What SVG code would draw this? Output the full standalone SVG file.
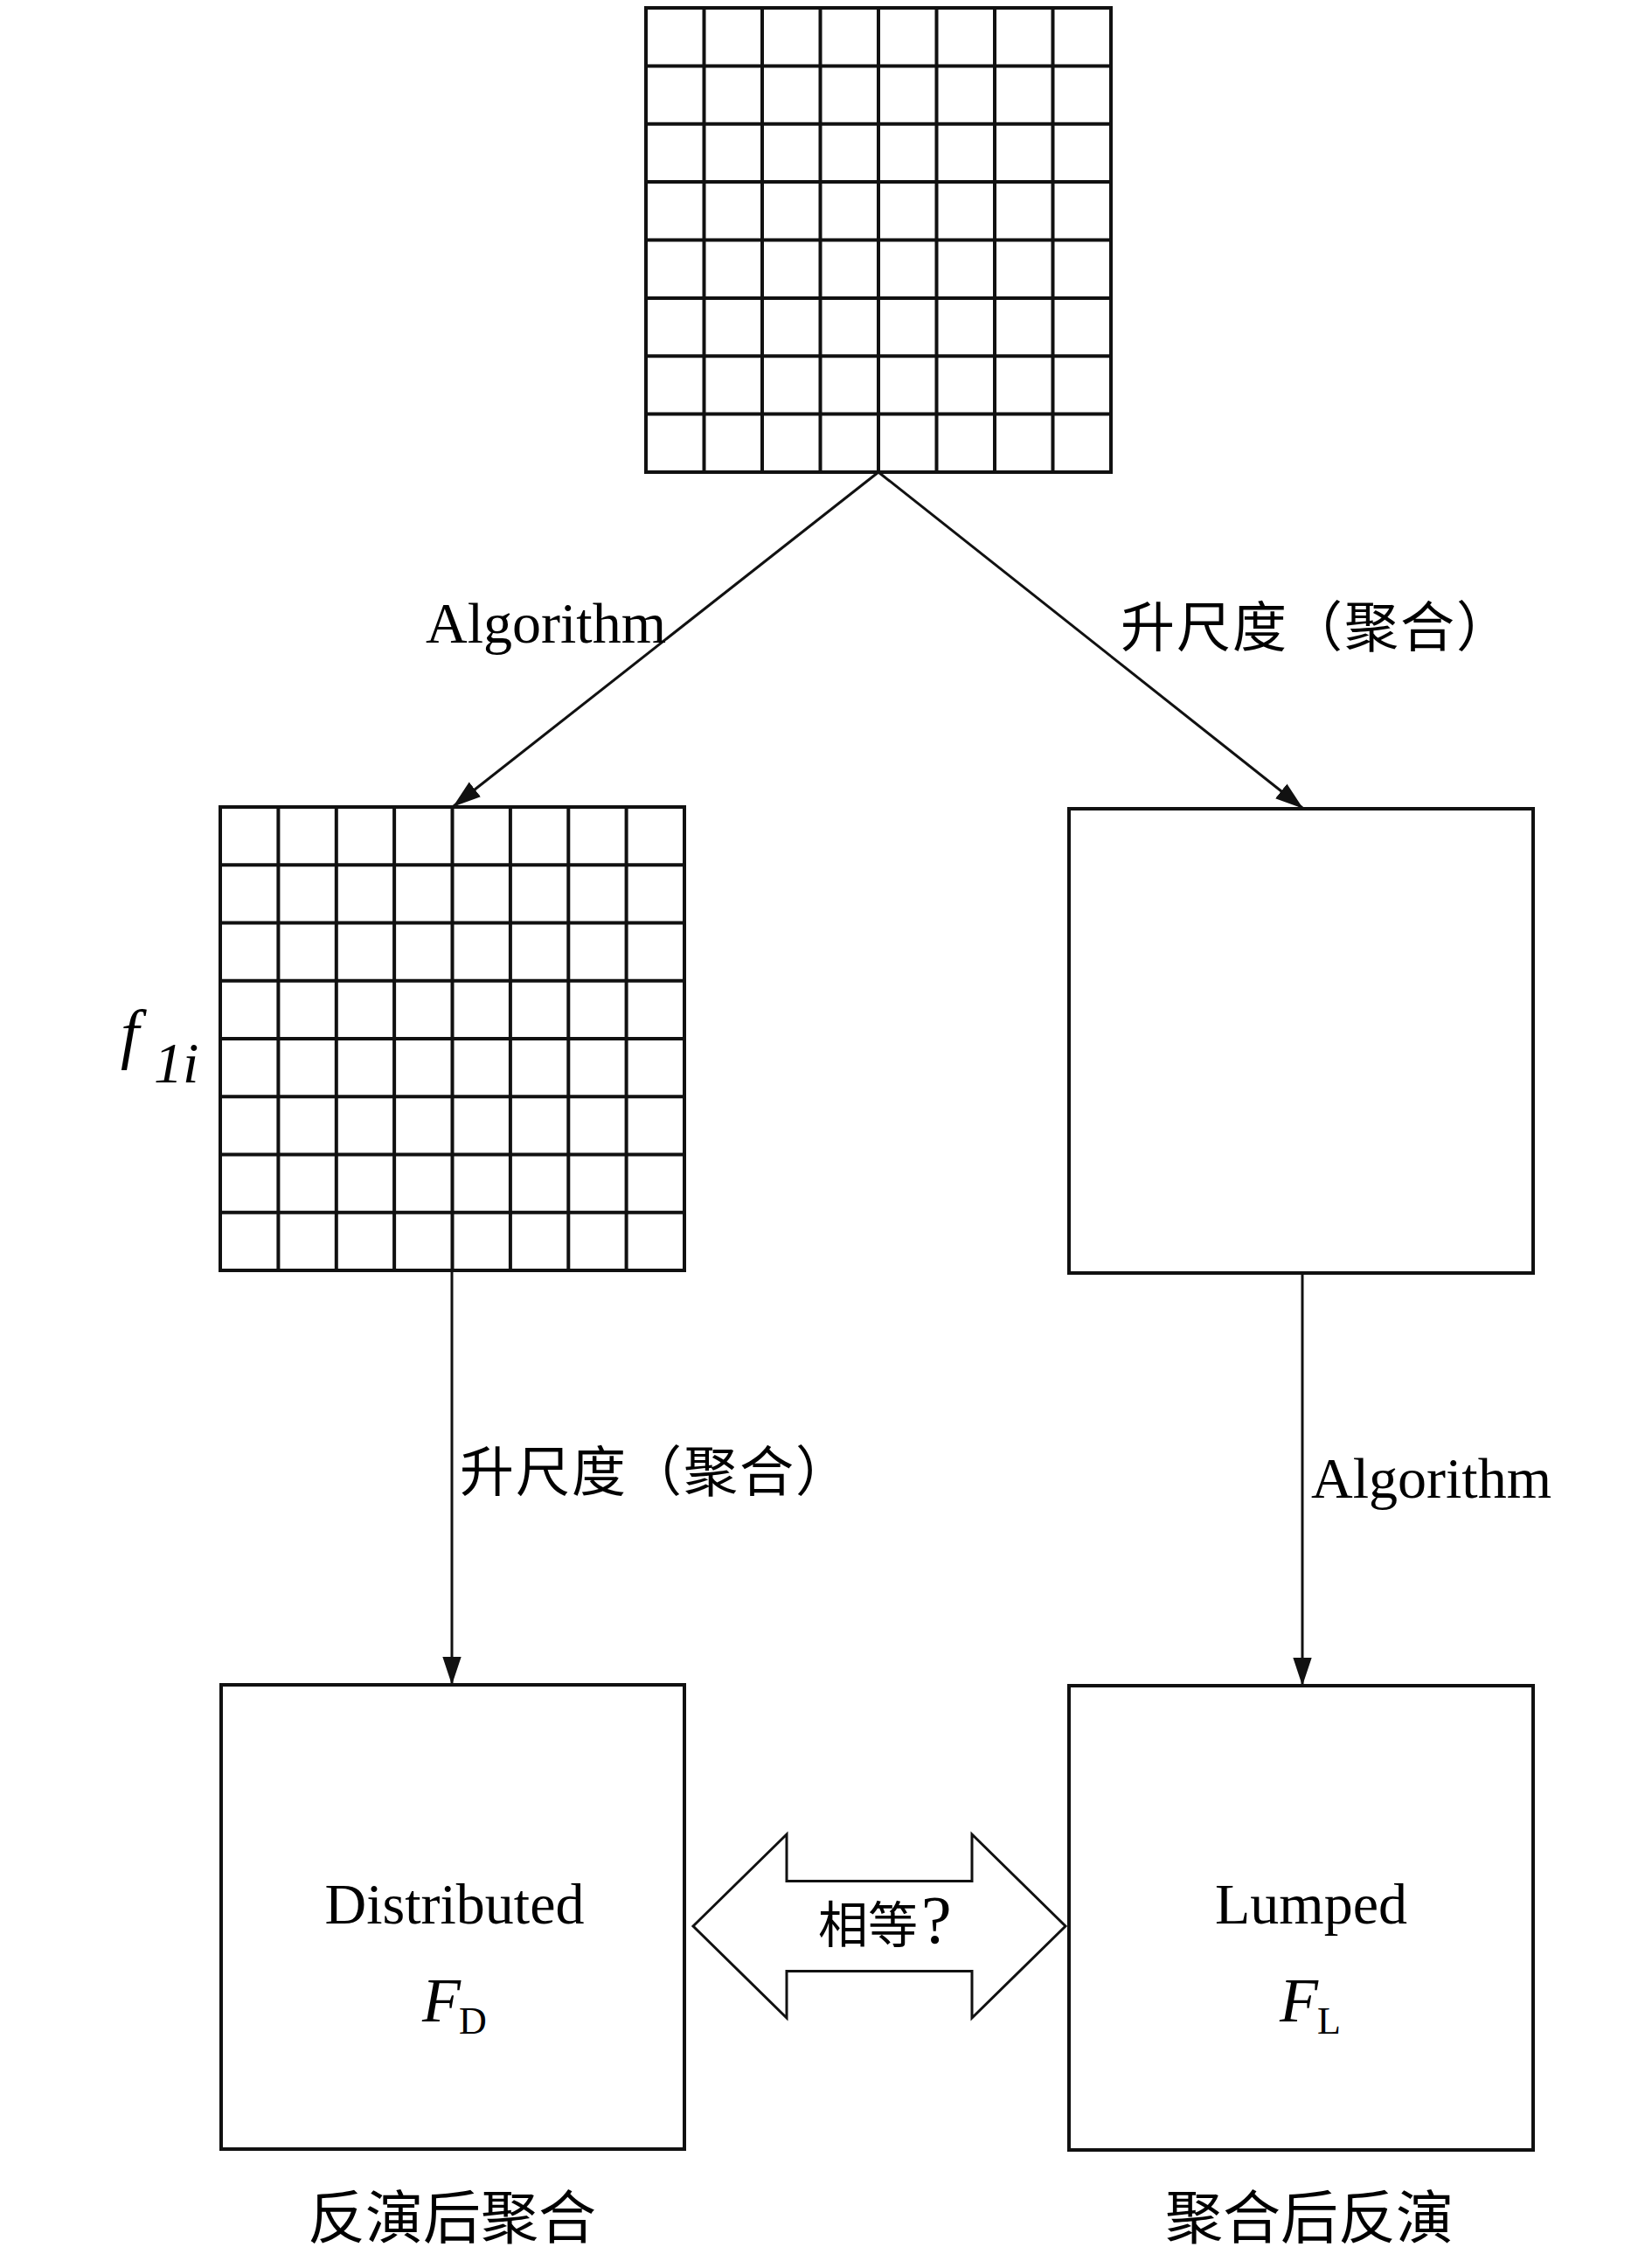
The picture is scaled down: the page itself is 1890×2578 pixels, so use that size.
<svg xmlns="http://www.w3.org/2000/svg" width="1890" height="2578" viewBox="0 0 1890 2578">
<style>
.grid{fill:#fff;stroke:#111;stroke-width:4}
.gl{fill:none;stroke:#111;stroke-width:4}
.box{fill:#fff;stroke:#111;stroke-width:4}
.conn{fill:none;stroke:#111;stroke-width:3}
.lat{font-family:"Liberation Serif","Times New Roman",serif;fill:#000}
.it{font-family:"Liberation Serif","Times New Roman",serif;font-style:italic;fill:#000}
.cjk{font-family:"Liberation Serif","Noto Sans CJK SC",sans-serif;fill:#000}
.dbl{fill:#fff;stroke:#111;stroke-width:3;stroke-linejoin:miter}
</style>
<defs>
<marker id="ah" markerUnits="userSpaceOnUse" markerWidth="32" markerHeight="22" viewBox="0 0 30 20" refX="29" refY="10" orient="auto">
<path d="M0,0 L30,10 L0,20 Z" fill="#111"/>
</marker>
</defs>
<rect width="1890" height="2578" fill="#fff"/>

<g id="connectors">
<line class="conn" x1="1005" y1="540" x2="519" y2="922" marker-end="url(#ah)"/>
<line class="conn" x1="1005" y1="540" x2="1490" y2="924" marker-end="url(#ah)"/>
<line class="conn" x1="517" y1="1453" x2="517" y2="1926" marker-end="url(#ah)"/>
<line class="conn" x1="1490" y1="1456" x2="1490" y2="1927" marker-end="url(#ah)"/>
<text class="lat" x="487" y="735" style="font-size:66px">Algorithm</text>
<text class="cjk" x="1282" y="740" letter-spacing="2" style="font-size:62px">升尺度（聚合）</text>
<text class="cjk" x="526" y="1706" letter-spacing="2" style="font-size:62px">升尺度（聚合）</text>
<text class="lat" x="1500" y="1713" style="font-size:66px">Algorithm</text>
</g>

<g id="top-grid">
<rect class="grid" x="739" y="9" width="532" height="531"/>
<path class="gl" d="M805.5,9V540 M872,9V540 M938.5,9V540 M1005,9V540 M1071.5,9V540 M1138,9V540 M1204.5,9V540
M739,75.4H1271 M739,141.8H1271 M739,208.1H1271 M739,274.5H1271 M739,340.9H1271 M739,407.3H1271 M739,473.6H1271"/>
</g>

<g id="left-grid">
<rect class="grid" x="252" y="923" width="531" height="530"/>
<path class="gl" d="M318.4,923V1453 M384.8,923V1453 M451.1,923V1453 M517.5,923V1453 M583.9,923V1453 M650.3,923V1453 M716.6,923V1453
M252,989.3H783 M252,1055.5H783 M252,1121.8H783 M252,1188H783 M252,1254.3H783 M252,1320.5H783 M252,1386.8H783"/>
<text class="it" x="138" y="1208" style="font-size:76px">f</text>
<text class="it" x="176" y="1238" style="font-size:66px">1i</text>
</g>

<g id="right-box">
<rect class="box" x="1223" y="925" width="531" height="531"/>
</g>

<g id="distributed">
<rect class="box" x="253" y="1927" width="530" height="531"/>
<text class="lat" x="520" y="2200" text-anchor="middle" style="font-size:66px">Distributed</text>
<text class="it" x="483" y="2312" style="font-size:72px">F</text>
<text class="lat" x="525" y="2326" style="font-size:44px">D</text>
<text class="cjk" x="352" y="2560" style="font-size:66px">反演后聚合</text>
</g>

<g id="lumped">
<rect class="box" x="1223" y="1928" width="531" height="531"/>
<text class="lat" x="1500" y="2200" text-anchor="middle" style="font-size:66px">Lumped</text>
<text class="it" x="1464" y="2312" style="font-size:72px">F</text>
<text class="lat" x="1507" y="2326" style="font-size:44px">L</text>
<text class="cjk" x="1333" y="2560" style="font-size:66px">聚合后反演</text>
</g>

<g id="equal-arrow">
<path class="dbl" d="M793,2203 L900,2098 L900,2151.5 L1112,2151.5 L1112,2098 L1219,2203 L1112,2308 L1112,2254.5 L900,2254.5 L900,2308 Z"/>
<text class="cjk" x="936" y="2222" style="font-size:57px">相等<tspan dx="4" style="font-family:'Liberation Serif',serif;font-size:78px">?</tspan></text>
</g>
</svg>
